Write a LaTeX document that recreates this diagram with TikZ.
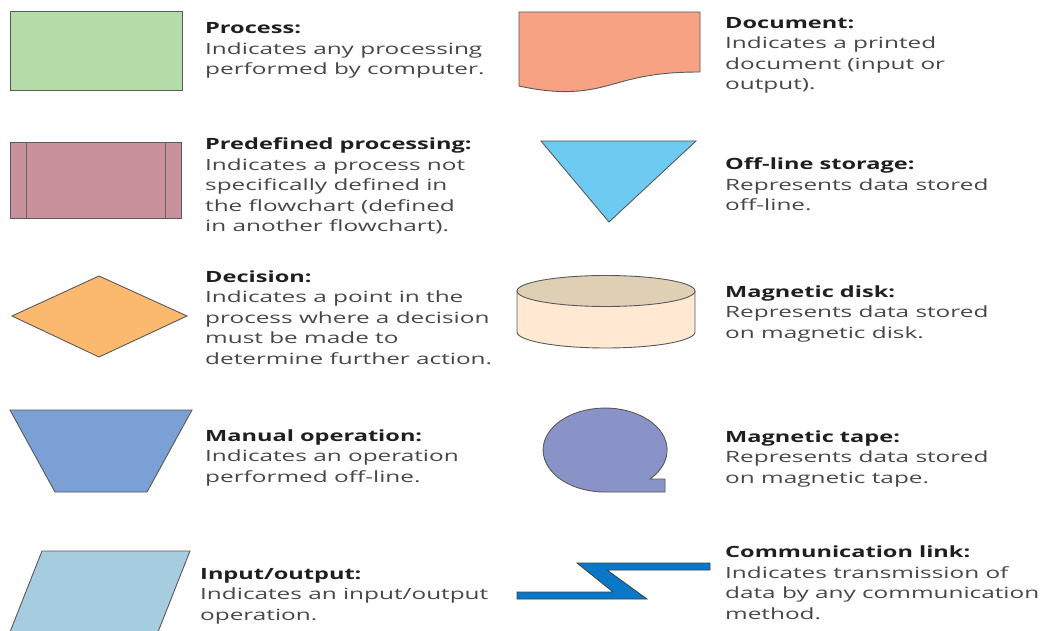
\documentclass[tikz,border=0pt]{standalone}
\usepackage{fontspec}
\setmainfont[FakeStretch=1.57]{Open Sans}
\newfontfamily\headfont[FakeStretch=1.52]{Open Sans}
\begin{document}
\begin{tikzpicture}[x=1pt,y=-1pt,
  shp/.style={draw=black!65,line width=0.9pt,line join=miter},
  desc/.style={anchor=base west,align=left,inner sep=0pt,text=black!72,
    font=\fontsize{15.5}{20.5}\selectfont}
]
\newcommand\hdtext[1]{{\headfont\bfseries\color{black!88}#1}}
\definecolor{cproc}{HTML}{B5DBA9}
\definecolor{cpre}{HTML}{C9919B}
\definecolor{cdec}{HTML}{FBB970}
\definecolor{cman}{HTML}{7BA0D5}
\definecolor{cio}{HTML}{A6CCE0}
\definecolor{cdoc}{HTML}{F7A283}
\definecolor{coff}{HTML}{6DCBF2}
\definecolor{cdtop}{HTML}{DFCFB5}
\definecolor{cdbody}{HTML}{FFE9D2}
\definecolor{ctape}{HTML}{8A93C8}
\definecolor{clink}{HTML}{0A78C8}
\useasboundingbox (0,0) rectangle (1045,631);
% Process
\path[shp,fill=cproc] (10,11) rectangle (182,90);
% Predefined
\path[shp,fill=cpre] (10,142) rectangle (181,218);
\draw[black!60,line width=1pt] (26,142) -- (26,218) (165,142) -- (165,218);
% Decision
\path[shp,fill=cdec] (12,316) -- (99,276) -- (187,316) -- (99,357) -- cycle;
% Manual
\path[shp,fill=cman] (10,410) -- (192,410) -- (147,492) -- (55,492) -- cycle;
% Input/output
\path[shp,fill=cio] (10,632) -- (42,551) -- (190,551) -- (158,632);
% Document
\path[shp,fill=cdoc] (519,12) -- (700,12) -- (700,72)
  .. controls (655,72) and (635,78) .. (610,85)
  .. controls (585,92) and (560,95) .. (519,86) -- cycle;
% Off-line storage
\path[shp,fill=coff] (541,141) -- (696,141) -- (609,222) -- cycle;
% Magnetic disk
\path[shp,fill=cdbody] (517,291) -- (517,332) arc[start angle=180,end angle=360,x radius=89pt,y radius=16pt] -- (695,291) -- cycle;
\path[shp,fill=cdtop] (606,291) ellipse[x radius=89pt,y radius=15.5pt];
% Magnetic tape
\path[shp,fill=ctape] (650,479) arc[start angle=-43.6,end angle=270,x radius=62pt,y radius=42pt]
  -- (665,492) -- (665,479) -- cycle;
% Communication link
\path[draw=black!75,line width=0.8pt,fill=clink,line join=miter] (517,592) -- (613,592) -- (577,563) -- (710,563) -- (710,570) -- (607,570) -- (647,599) -- (517,599) -- cycle;
% Texts
\node[desc] (tproc) at (205,75) {\hdtext{Process:}\\Indicates any processing\\performed by computer.};
\node[desc] (tpre) at (205,232) {\hdtext{Predefined processing:}\\Indicates a process not\\specifically defined in\\the flowchart (defined\\in another flowchart).};
\node[desc] (tdec) at (205,364) {\hdtext{Decision:}\\Indicates a point in the\\process where a decision\\must be made to\\determine further action.};
\node[desc] (tman) at (205,482) {\hdtext{Manual operation:}\\Indicates an operation\\performed off-line.};
\node[desc] (tio) at (200,620) {\hdtext{Input/output:}\\Indicates an input/output\\operation.};
\node[desc] (tdoc) at (725,90) {\hdtext{Document:}\\Indicates a printed\\document (input or\\output).};
\node[desc] (toff) at (725,211) {\hdtext{Off-line storage:}\\Represents data stored\\off-line.};
\node[desc] (tdisk) at (725,338) {\hdtext{Magnetic disk:}\\Represents data stored\\on magnetic disk.};
\node[desc] (ttape) at (725,483) {\hdtext{Magnetic tape:}\\Represents data stored\\on magnetic tape.};
\node[desc] (tlink) at (725,619) {\hdtext{Communication link:}\\Indicates transmission of\\data by any communication\\method.};
\end{tikzpicture}
\end{document}
